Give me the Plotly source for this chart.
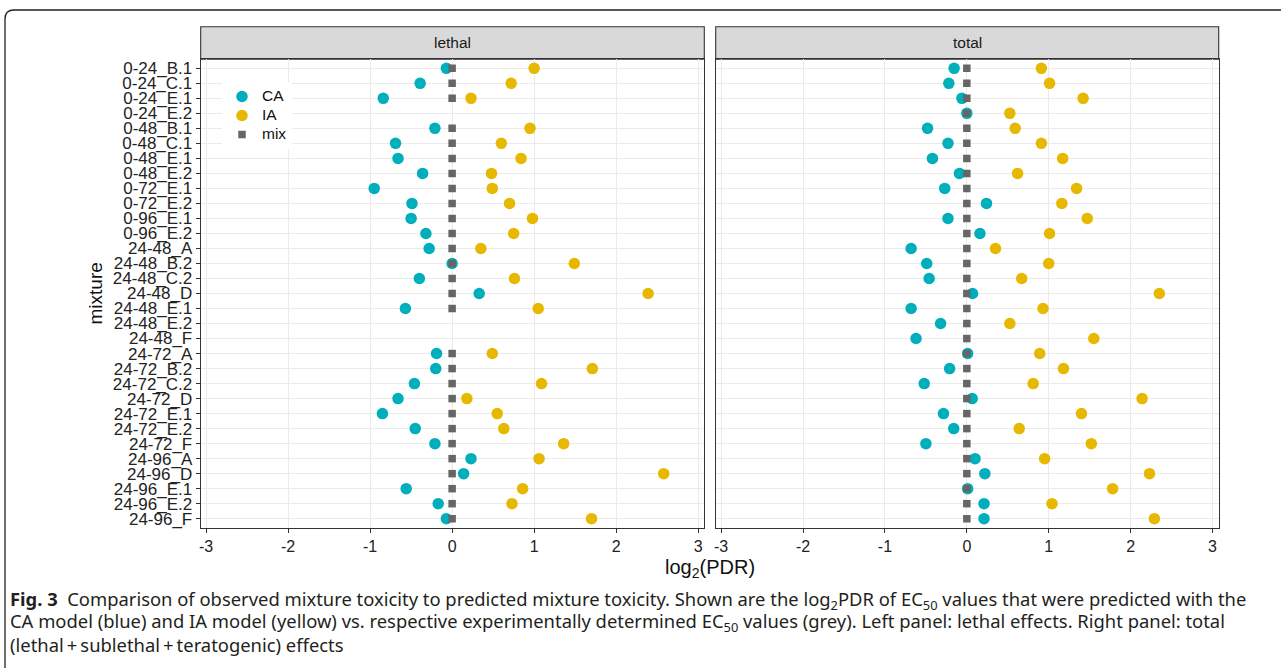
import plotly.graph_objects as go

# ---------------- data ----------------
mixtures = ["0-24_B.1", "0-24_C.1", "0-24_E.1", "0-24_E.2", "0-48_B.1", "0-48_C.1",
            "0-48_E.1", "0-48_E.2", "0-72_E.1", "0-72_E.2", "0-96_E.1", "0-96_E.2",
            "24-48_A", "24-48_B.2", "24-48_C.2", "24-48_D", "24-48_E.1", "24-48_E.2",
            "24-48_F", "24-72_A", "24-72_B.2", "24-72_C.2", "24-72_D", "24-72_E.1",
            "24-72_E.2", "24-72_F", "24-96_A", "24-96_D", "24-96_E.1", "24-96_E.2",
            "24-96_F"]

lethal_CA = [-0.07, -0.39, -0.84, None, -0.21, -0.69, -0.66, -0.36, -0.95, -0.49,
             -0.50, -0.32, -0.28, 0.00, -0.40, 0.33, -0.57, None, None, -0.19,
             -0.20, -0.46, -0.66, -0.85, -0.45, -0.21, 0.23, 0.14, -0.56, -0.17, -0.07]
lethal_IA = [1.00, 0.72, 0.23, None, 0.95, 0.60, 0.84, 0.48, 0.49, 0.70,
             0.98, 0.75, 0.35, 1.49, 0.76, 2.39, 1.05, None, None, 0.49,
             1.71, 1.09, 0.18, 0.55, 0.63, 1.36, 1.06, 2.58, 0.86, 0.73, 1.70]
lethal_mix = [0, 0, 0, None, 0, 0, 0, 0, 0, 0, 0, 0, 0, 0, 0, 0, 0, None, None, 0,
              0, 0, 0, 0, 0, 0, 0, 0, 0, 0, 0]

total_CA = [-0.155, -0.22, -0.06, 0.00, -0.48, -0.23, -0.42, -0.09, -0.27, 0.24,
            -0.23, 0.16, -0.68, -0.49, -0.46, 0.07, -0.68, -0.32, -0.62, 0.01,
            -0.21, -0.52, 0.065, -0.285, -0.16, -0.50, 0.10, 0.22, 0.01, 0.21, 0.21]
total_IA = [0.91, 1.01, 1.42, 0.525, 0.59, 0.91, 1.17, 0.62, 1.34, 1.16,
            1.47, 1.01, 0.35, 1.00, 0.67, 2.35, 0.93, 0.525, 1.55, 0.89,
            1.18, 0.81, 2.14, 1.40, 0.64, 1.52, 0.95, 2.23, 1.78, 1.04, 2.29]
total_mix = [0] * 31

panels = ["lethal", "total"]
series_names = ["CA", "IA", "mix"]
x_ticks = [-3, -2, -1, 0, 1, 2, 3]

# ---------------- style ----------------
W, H = 1281, 668
COL_CA = "#00AFBB"
COL_IA = "#E7B800"
COL_MIX = "#666666"
DARK = "#333333"
GRID = "#EBEBEB"
FONT = "Liberation Sans"


def px(x):
    return x / W


def py(y):
    return 1 - y / H


def legend_label(s):
    return f"<span style='font-size:15.5px'>{s}</span>"


left_dom = [px(200.7), px(704.3)]
right_dom = [px(715.7), px(1218.7)]
y_dom = [py(527.7), py(59.3)]

fig = go.Figure()

for xa, ya, ca, ia, mix, show in [("x", "y", lethal_CA, lethal_IA, lethal_mix, True),
                                  ("x2", "y2", total_CA, total_IA, total_mix, False)]:
    for vals, nm, col, size, sym, rank in [(ca, series_names[0], COL_CA, 11.5, "circle", 1),
                                           (ia, series_names[1], COL_IA, 11.5, "circle", 2),
                                           (mix, series_names[2], COL_MIX, 7.5, "square", 3)]:
        fig.add_trace(go.Scatter(x=vals, y=mixtures, mode="markers", name=legend_label(nm),
                                 hovertemplate=f"{nm}: %{{x}}<extra>%{{y}}</extra>",
                                 marker=dict(color=col, size=size, symbol=sym),
                                 xaxis=xa, yaxis=ya, showlegend=show, legendrank=rank))

xcommon = dict(range=[-3.066, 3.075], tickmode="array", tickvals=x_ticks,
               ticktext=[str(v) for v in x_ticks],
               showgrid=True, gridcolor=GRID, gridwidth=1.1, zeroline=False,
               showline=True, mirror=True, linecolor=DARK, linewidth=1.1,
               ticks="outside", ticklen=4, tickwidth=1.1, tickcolor=DARK,
               tickfont=dict(family=FONT, size=16, color="#222222"),
               automargin=False, fixedrange=True)
ycommon = dict(type="category", categoryorder="array", categoryarray=mixtures,
               tickmode="array", tickvals=mixtures, ticktext=mixtures,
               range=[30.6, -0.6], showgrid=True, gridcolor=GRID, gridwidth=1.1,
               zeroline=False, showline=True, mirror=True, linecolor=DARK, linewidth=1.1,
               automargin=False, fixedrange=True)

fig.update_layout(
    width=W, height=H,
    margin=dict(l=0, r=0, t=0, b=0),
    paper_bgcolor="white", plot_bgcolor="white",
    template="none",
    xaxis=dict(domain=left_dom, anchor="y", **xcommon),
    xaxis2=dict(domain=right_dom, anchor="y2", **xcommon),
    yaxis=dict(domain=y_dom, anchor="x", ticks="outside", ticklen=4, tickwidth=1.1,
               tickcolor=DARK, tickfont=dict(family=FONT, size=17, color="#222222"),
               **ycommon),
    yaxis2=dict(domain=y_dom, anchor="x2", matches="y", showticklabels=False, ticks="",
                **ycommon),
    legend=dict(x=px(222), y=py(82), xanchor="left", yanchor="top",
                bgcolor="white", borderwidth=0,
                font=dict(family=FONT, size=11, color="#111111"),
                itemsizing="trace", tracegroupgap=0),
    showlegend=True,
)

shapes = []
# strips
for dom in (left_dom, right_dom):
    shapes.append(dict(type="rect", xref="paper", yref="paper",
                       x0=dom[0], x1=dom[1], y0=py(59.3), y1=py(26.7),
                       fillcolor="#D9D9D9", line=dict(color=DARK, width=1.1), layer="below"))
# outer rounded frame (partially off-canvas)
r = 9
frame_path = (f"M {px(5)},{py(700)} L {px(5)},{py(10 + r)} "
              f"Q {px(5)},{py(10)} {px(5 + r)},{py(10)} L {px(1300)},{py(10)}")
shapes.append(dict(type="path", xref="paper", yref="paper", path=frame_path,
                   line=dict(color="#231F20", width=1.3)))
fig.update_layout(shapes=shapes)

annotations = []
for name, dom in zip(panels, (left_dom, right_dom)):
    annotations.append(dict(text=name, x=(dom[0] + dom[1]) / 2, y=py(43), xref="paper",
                            yref="paper", xanchor="center", yanchor="middle",
                            showarrow=False, font=dict(family=FONT, size=15.5, color="#1A1A1A")))
annotations.append(dict(text="log<sub>2</sub>(PDR)", x=(left_dom[0] + right_dom[1]) / 2,
                        y=py(568), xref="paper", yref="paper", xanchor="center",
                        yanchor="middle", showarrow=False,
                        font=dict(family=FONT, size=20, color="#111111")))
annotations.append(dict(text="mixture", x=px(95), y=(y_dom[0] + y_dom[1]) / 2,
                        xref="paper", yref="paper", xanchor="center", yanchor="middle",
                        textangle=-90, showarrow=False,
                        font=dict(family=FONT, size=19, color="#111111")))

CAP_FONT = dict(family="Noto Sans", size=18.4, color="#231F20")
caption_lines = [
    "<b>Fig. 3</b>  Comparison of observed mixture toxicity to predicted mixture toxicity. "
    "Shown are the log<sub>2</sub>PDR of EC<sub>50</sub> values that were predicted with the",
    "CA model (blue) and IA model (yellow) vs. respective experimentally determined "
    "EC<sub>50</sub> values (grey). Left panel: lethal effects. Right panel: total",
    "(lethal\u2009+\u2009sublethal\u2009+\u2009teratogenic) effects",
]
for line, yy in zip(caption_lines, (600, 622, 644)):
    annotations.append(dict(text=line, x=px(8), y=py(yy), xref="paper", yref="paper",
                            xanchor="left", yanchor="middle", showarrow=False,
                            align="left", font=CAP_FONT))
fig.update_layout(annotations=annotations)

fig.write_html("out.html", config={"displayModeBar": False},
               post_script="document.body.style.margin='0';")
